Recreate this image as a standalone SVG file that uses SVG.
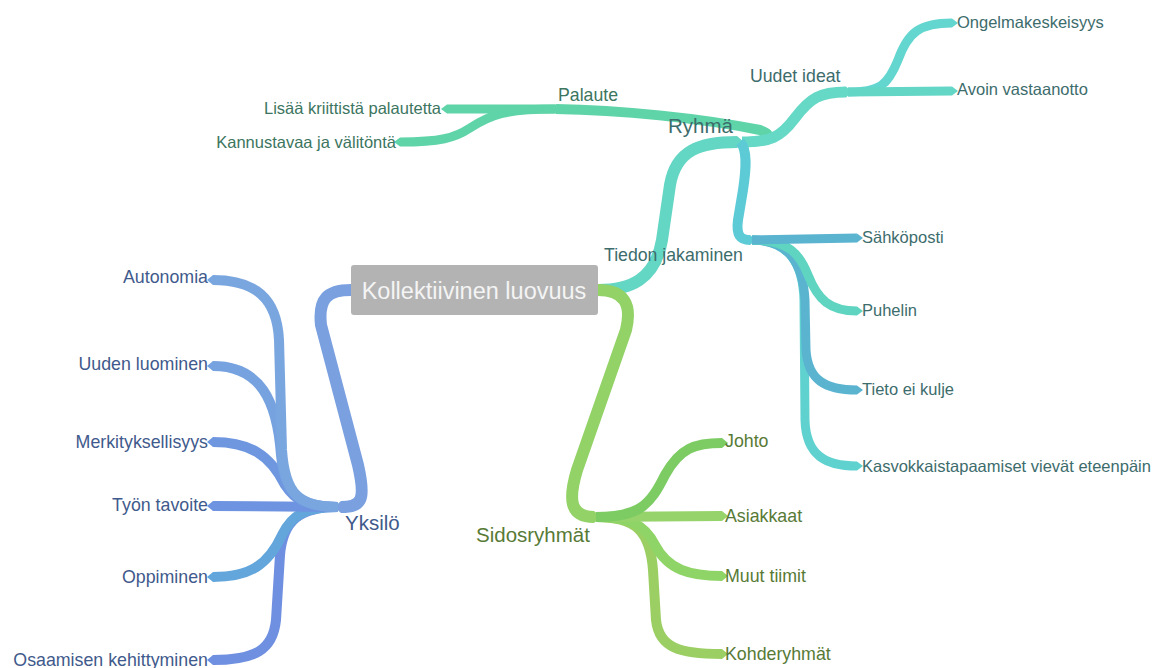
<svg xmlns="http://www.w3.org/2000/svg" width="1155" height="668" viewBox="0 0 1155 668">
<style>
.br{fill:none;stroke-linecap:butt;stroke-linejoin:round}
.t{font-family:"Liberation Sans",Arial,sans-serif;font-size:16.5px}
.tl{font-family:"Liberation Sans",Arial,sans-serif;font-size:17.8px}
.m{font-family:"Liberation Sans",Arial,sans-serif;font-size:17.7px}
.b{font-family:"Liberation Sans",Arial,sans-serif;font-size:20.5px}
.end{text-anchor:end}
.teal{fill:#3d6c6c}
.mint{fill:#3c7560}
.blue{fill:#3f5a8c}
.grn{fill:#587a36}
</style>
<rect width="1155" height="668" fill="#ffffff"/>
<g id="connectors">
  <!-- root branches -->
  <path class="br" d="M598,290 C630,290 655,280 662,240 L670,185 C676,150 700,142 737,142" stroke="#64d6c4" stroke-width="12"/>
  <polygon points="737,136 744,142 737,148" fill="#64d6c4"/>
  <path class="br" d="M598,290 C625,290 632,305 626,330 L577,470 C568,500 570,517 594,517" stroke="#92d266" stroke-width="12"/>
  <polygon points="594,511 601,517 594,523" fill="#92d266"/>
  <path class="br" d="M351,290 C328,290 318,298 321,325 L358,465 C366,500 362,507 341,507" stroke="#7aa0e0" stroke-width="12"/>
  <polygon points="341,501 334,507 341,513" fill="#7aa0e0"/>

  <!-- Ryhmä children -->
  <path class="br" d="M742,142 C770,142 775,135 760,130 C700,118 620,110 556,109" stroke="#5fd4a8" stroke-width="10"/>
  <polygon points="556,104 550,109 556,114" fill="#5fd4a8"/>
  <path class="br" d="M742,142 C770,142 780,138 795,118 C810,98 820,92 846,92" stroke="#66d8c6" stroke-width="11"/>
  <polygon points="846,86.5 852,92 846,97.5" fill="#66d8c6"/>
  <path class="br" d="M740,142 C748,150 746,170 743,190 L738,220 C736,235 740,240 750,240" stroke="#5ccbd6" stroke-width="10"/>
  <polygon points="750,235 756,240 750,245" fill="#5ccbd6"/>

  <!-- Palaute children -->
  <path class="br" d="M555,109 L447,109" stroke="#5fd4a8" stroke-width="9"/>
  <polygon points="447,104.5 441,109 447,113.5" fill="#5fd4a8"/>
  <path class="br" d="M555,109 C505,109 490,115 470,128 C455,138 440,142 400,142" stroke="#5fd4a8" stroke-width="9"/>
  <polygon points="400,137.5 394,142 400,146.5" fill="#5fd4a8"/>

  <!-- Uudet ideat children -->
  <path class="br" d="M848,92 C880,92 888,85 898,60 C908,32 920,23 952,23" stroke="#63d6d0" stroke-width="9"/>
  <polygon points="952,18.5 958,23 952,27.5" fill="#63d6d0"/>
  <path class="br" d="M848,92 L952,91" stroke="#63d6c6" stroke-width="9"/>
  <polygon points="952,86.5 958,91 952,95.5" fill="#63d6c6"/>

  <!-- Tiedon jakaminen children -->
  <path class="br" d="M752,240 C790,240 803,265 804,300 L805,420 C806,455 825,466 857,466" stroke="#5fd2d0" stroke-width="9"/>
  <polygon points="857,461.5 863,466 857,470.5" fill="#5fd2d0"/>
  <path class="br" d="M752,240 C790,240 803,265 805,300 L806,350 C808,380 825,390 857,390" stroke="#5ab4d0" stroke-width="9"/>
  <polygon points="857,385.5 863,390 857,394.5" fill="#5ab4d0"/>
  <path class="br" d="M752,240 C790,240 800,255 808,275 C818,300 830,311 857,311" stroke="#5fd4c0" stroke-width="9"/>
  <polygon points="857,306.5 863,311 857,315.5" fill="#5fd4c0"/>
  <path class="br" d="M752,240 L857,238" stroke="#5ab4d0" stroke-width="9"/>
  <polygon points="857,233.5 863,238 857,242.5" fill="#5ab4d0"/>

  <!-- Sidosryhmät children -->
  <path class="br" d="M596,517 C635,517 650,530 653,570 L656,620 C659,648 680,654 722,654" stroke="#9ccf63" stroke-width="10"/>
  <polygon points="722,649 728,654 722,659" fill="#9ccf63"/>
  <path class="br" d="M596,517 C630,517 645,525 655,545 C668,570 690,576 722,576" stroke="#8fd466" stroke-width="10"/>
  <polygon points="722,571 728,576 722,581" fill="#8fd466"/>
  <path class="br" d="M596,517 L722,516" stroke="#96d36a" stroke-width="10"/>
  <polygon points="722,511 728,516 722,521" fill="#96d36a"/>
  <path class="br" d="M596,517 C640,517 650,505 665,475 C680,448 695,443 722,443" stroke="#7ccc63" stroke-width="10"/>
  <polygon points="722,438 728,443 722,448" fill="#7ccc63"/>

  <!-- Yksilö children -->
  <path class="br" d="M338,507 C300,507 283,520 280,555 L276,620 C273,650 255,660 213,660" stroke="#6f8fe0" stroke-width="10"/>
  <polygon points="213,655 207,660 213,665" fill="#6f8fe0"/>
  <path class="br" d="M338,507 C305,507 292,515 282,535 C268,565 250,577 213,577" stroke="#62a6dc" stroke-width="10"/>
  <polygon points="213,572 207,577 213,582" fill="#62a6dc"/>
  <path class="br" d="M338,507 L213,506" stroke="#6e93e0" stroke-width="10"/>
  <polygon points="213,501 207,506 213,511" fill="#6e93e0"/>
  <path class="br" d="M338,507 C305,507 295,500 285,485 C270,455 250,442 213,442" stroke="#6f97e0" stroke-width="10"/>
  <polygon points="213,437 207,442 213,447" fill="#6f97e0"/>
  <path class="br" d="M338,507 C300,507 285,495 281,455 C277,400 260,366 213,366" stroke="#77a2e0" stroke-width="10"/>
  <polygon points="213,361 207,366 213,371" fill="#77a2e0"/>
  <path class="br" d="M338,507 C300,507 285,495 282,450 L279,340 C277,298 255,280 213,280" stroke="#7aa6e0" stroke-width="10"/>
  <polygon points="213,275 207,280 213,285" fill="#7aa6e0"/>
</g>

<g id="center">
  <rect x="351" y="265" width="247" height="50" rx="3" fill="#b3b3b3"/>
  <text x="474" y="299" text-anchor="middle" font-family="Liberation Sans, Arial, sans-serif" font-size="23.5" fill="#f4f4f4">Kollektiivinen luovuus</text>
</g>
<g id="ryhma"><text class="b teal" x="668" y="133">Ryhmä</text></g>
<g id="palaute"><text class="m mint" x="558" y="101">Palaute</text></g>
<g id="uudet-ideat"><text class="m teal" x="750" y="82">Uudet ideat</text></g>
<g id="tiedon-jakaminen"><text class="m teal" x="604" y="261">Tiedon jakaminen</text></g>
<g id="yksilo"><text class="b blue" x="345" y="530">Yksilö</text></g>
<g id="sidosryhmat"><text class="b grn" x="476" y="542">Sidosryhmät</text></g>

<g id="ongelmakeskeisyys"><text class="t teal" x="957" y="28">Ongelmakeskeisyys</text></g>
<g id="avoin-vastaanotto"><text class="t teal" x="957" y="95">Avoin vastaanotto</text></g>
<g id="lisaa-kriittista"><text class="t mint end" x="441" y="114">Lisää kriittistä palautetta</text></g>
<g id="kannustavaa"><text class="t mint end" x="396" y="148">Kannustavaa ja välitöntä</text></g>
<g id="sahkoposti"><text class="t teal" x="862" y="243">Sähköposti</text></g>
<g id="puhelin"><text class="t teal" x="862" y="316">Puhelin</text></g>
<g id="tieto-ei-kulje"><text class="t teal" x="862" y="395">Tieto ei kulje</text></g>
<g id="kasvokkais"><text class="t teal" x="862" y="472">Kasvokkaistapaamiset vievät eteenpäin</text></g>
<g id="johto"><text class="tl grn" x="725" y="447">Johto</text></g>
<g id="asiakkaat"><text class="tl grn" x="725" y="522">Asiakkaat</text></g>
<g id="muut-tiimit"><text class="tl grn" x="725" y="582">Muut tiimit</text></g>
<g id="kohderyhmat"><text class="tl grn" x="725" y="660">Kohderyhmät</text></g>
<g id="autonomia"><text class="tl blue end" x="208" y="283">Autonomia</text></g>
<g id="uuden-luominen"><text class="tl blue end" x="208" y="370">Uuden luominen</text></g>
<g id="merkityksellisyys"><text class="tl blue end" x="208" y="448">Merkityksellisyys</text></g>
<g id="tyon-tavoite"><text class="tl blue end" x="208" y="511">Työn tavoite</text></g>
<g id="oppiminen"><text class="tl blue end" x="208" y="583">Oppiminen</text></g>
<g id="osaamisen"><text class="tl blue end" x="208" y="666">Osaamisen kehittyminen</text></g>
</svg>
